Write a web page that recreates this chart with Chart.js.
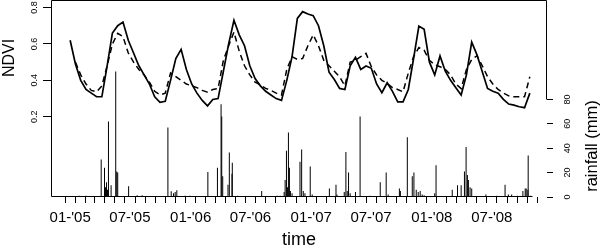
<!DOCTYPE html>
<html>
<head>
<meta charset="utf-8">
<script src="https://cdn.jsdelivr.net/npm/chart.js@4.4.1/dist/chart.umd.min.js"></script>
<style>
  html, body { margin: 0; padding: 0; background: #fff; }
  #wrap { width: 600px; height: 249px; }
</style>
</head>
<body>
<div id="wrap"><canvas id="ndviChart" width="600" height="249"></canvas></div>
<script>
// NDVI, 16-day composites from 01-01-2005 (x = days since 01-01-2005)
const ndviStepDays = 16;

const ndviSolid = [
  0.62, 0.49, 0.40, 0.35, 0.33, 0.31, 0.31, 0.48, 0.66, 0.70,
  0.72, 0.62, 0.55, 0.48, 0.43, 0.38, 0.31, 0.28, 0.285, 0.40,
  0.52, 0.57, 0.46, 0.38, 0.33, 0.29, 0.26, 0.295, 0.30, 0.45,
  0.60, 0.73, 0.65, 0.59, 0.48, 0.41, 0.37, 0.34, 0.32, 0.30,
  0.29, 0.40, 0.53, 0.74, 0.777, 0.764, 0.755, 0.70, 0.59, 0.445,
  0.405, 0.356, 0.35, 0.48, 0.526, 0.46, 0.479, 0.466, 0.38, 0.332,
  0.387, 0.34, 0.282, 0.282, 0.35, 0.52, 0.698, 0.68, 0.50, 0.43,
  0.534, 0.45, 0.40, 0.36, 0.32, 0.43, 0.61, 0.54, 0.447, 0.356,
  0.34, 0.33, 0.296, 0.27, 0.264, 0.255, 0.25, 0.33
];

const ndviDashed = [
  null, 0.50, 0.43, 0.38, 0.345, 0.337, 0.37, 0.48, 0.60, 0.658,
  0.64, 0.55, 0.50, 0.46, 0.43, 0.39, 0.34, 0.32, 0.33, 0.44,
  0.42, 0.40, 0.38, 0.37, 0.36, 0.345, 0.335, 0.35, 0.355, 0.51,
  0.59, 0.665, 0.56, 0.48, 0.43, 0.39, 0.375, 0.356, 0.345, 0.33,
  0.32, 0.46, 0.53, 0.515, 0.52, 0.59, 0.65, 0.59, 0.51, 0.48,
  0.45, 0.42, 0.37, 0.50, 0.51, 0.53, 0.548, 0.475, 0.43, 0.40,
  0.383, 0.36, 0.35, 0.337, 0.44, 0.53, 0.58, 0.565, 0.51, 0.485,
  0.475, 0.46, 0.43, 0.38, 0.355, 0.46, 0.515, 0.535, 0.48, 0.42,
  0.38, 0.35, 0.33, 0.315, 0.31, 0.31, 0.31, 0.42
];

// daily rainfall, rainy days only (day = days since 01-01-2005)
const rainDays = [
  27, 48, 94, 104, 107, 110, 113, 116, 124, 138,
  141, 144, 177, 203, 218, 296, 306, 313, 318, 323,
  348, 363, 417, 446, 457, 459, 462, 478, 482, 490,
  491, 507, 580, 627, 636, 648, 651, 655, 658, 661,
  664, 667, 672, 696, 701, 706, 711, 727, 733, 785,
  805, 808, 830, 835, 839, 843, 848, 864, 878, 908,
  939, 957, 963, 997, 1000, 1021, 1036, 1041, 1048, 1054,
  1060, 1066, 1072, 1104, 1108, 1157, 1173, 1184, 1194, 1199,
  1203, 1206, 1211, 1216, 1259, 1292, 1317, 1327, 1337, 1354,
  1371, 1378, 1381, 1386, 1387, 1393
];
const rainMm = [
  1, 1, 30.7, 24, 8, 12, 6, 62, 9.6, 103,
  21, 20, 8.8, 1.5, 1.5, 57, 4.7, 3, 4, 5.5,
  1, 1, 20.6, 24, 76, 66, 17, 10, 36.5, 19,
  28, 1, 5, 1, 1, 4, 14, 38, 8, 53,
  24, 5, 3, 29, 39, 5, 3, 25, 2, 7,
  10, 2, 4, 37, 5, 20, 3, 4, 66, 1,
  12, 20, 2, 7, 5, 49, 17, 20, 6, 4,
  5, 2, 1.5, 3, 26, 6, 9.6, 9.6, 21, 41,
  18, 14, 8, 7, 2, 1, 10, 2, 2, 1,
  5, 7, 7, 6, 34, 1
];

const ndviTicks = [0.2, 0.4, 0.6, 0.8];
const rainTicks = [0, 20, 40, 60, 80];
const xTickMonths = 47;               // monthly ticks Jan 2005 .. Nov 2008
const xLabelMonths = [0, 6, 12, 18, 24, 30, 36, 42];
const xTickLabels = ["01-'05", "07-'05", "01-'06", "07-'06", "01-'07", "07-'07", "01-'08", "07-'08"];

const FONT = "'Liberation Sans', Arial, sans-serif";
const DAY0 = Date.UTC(2005, 0, 1);

const monthDays = [];
for (let m = 0; m < xTickMonths; m++) {
  monthDays.push((Date.UTC(2005, m, 1) - DAY0) / 86400000);
}

function xLabel(value) {
  const m = monthDays.indexOf(value);
  const k = xLabelMonths.indexOf(m);
  return k >= 0 ? xTickLabels[k] : "";
}

const solidData = ndviSolid.map((v, i) => ({ x: i * ndviStepDays, y: v }));
const dashedData = ndviDashed.map((v, i) => ({ x: i * ndviStepDays, y: v }));
const rainData = rainDays.map((d, i) => ({ x: d, y: rainMm[i] }));

// box + axis titles, drawn the way the R figure has them
const framePlugin = {
  id: "frame",
  afterDraw(chart) {
    const { ctx, chartArea: a, scales } = chart;
    const yTop = Math.round(a.top) + 0.5;
    const yBot = Math.round(a.bottom) - 0.5;
    const xL = Math.round(a.left) + 0.5;
    const xR = Math.round(a.right) - 0.5;

    ctx.save();
    ctx.strokeStyle = "#000";
    ctx.lineWidth = 1;
    ctx.beginPath();
    ctx.moveTo(xL, yBot);
    ctx.lineTo(xL, yTop);
    ctx.lineTo(xR, yTop);
    ctx.lineTo(xR, scales.y2.getPixelForValue(80));
    ctx.moveTo(xL, yBot);
    ctx.lineTo(scales.x.getPixelForValue(monthDays[monthDays.length - 1]), yBot);
    ctx.stroke();

    ctx.fillStyle = "#000";
    ctx.textAlign = "center";
    ctx.textBaseline = "middle";

    ctx.font = "16px " + FONT;
    ctx.translate(10, 58);
    ctx.rotate(-Math.PI / 2);
    ctx.fillText("NDVI", 0, 0);
    ctx.setTransform(1, 0, 0, 1, 0, 0);

    ctx.font = "16.5px " + FONT;
    ctx.translate(592, 146);
    ctx.rotate(-Math.PI / 2);
    ctx.fillText("rainfall (mm)", 0, 0);
    ctx.restore();
  }
};

const ctx = document.getElementById("ndviChart").getContext("2d");

new Chart(ctx, {
  type: "bar",
  data: {
    datasets: [
      {
        type: "line",
        data: solidData,
        yAxisID: "y",
        borderColor: "#000",
        borderWidth: 1.7,
        pointRadius: 0,
        tension: 0,
        order: 1
      },
      {
        type: "line",
        data: dashedData,
        yAxisID: "y",
        borderColor: "#000",
        borderWidth: 1.5,
        borderDash: [6, 4],
        pointRadius: 0,
        tension: 0,
        order: 2
      },
      {
        type: "bar",
        data: rainData,
        yAxisID: "y2",
        backgroundColor: "#000",
        barThickness: 1,
        inflateAmount: 0,
        order: 3
      }
    ]
  },
  options: {
    responsive: false,
    animation: false,
    layout: { padding: 0 },
    plugins: {
      legend: { display: false },
      tooltip: { enabled: false }
    },
    scales: {
      x: {
        type: "linear",
        min: -58,
        max: 1444,
        offset: false,
        afterBuildTicks: s => { s.ticks = monthDays.map(d => ({ value: d })); },
        afterFit: s => { s.height = 52; s.paddingLeft = 0; s.paddingRight = 0; },
        grid: { drawOnChartArea: false, tickLength: 6, color: "#000" },
        border: { display: false },
        ticks: {
          autoSkip: false,
          minRotation: 0,
          maxRotation: 0,
          padding: 6,
          color: "#000",
          font: { family: FONT, size: 15 },
          callback: value => xLabel(value)
        },
        title: {
          display: true,
          text: "time",
          color: "#000",
          font: { family: FONT, size: 18 },
          padding: { top: 0, bottom: -2 }
        }
      },
      y: {
        position: "left",
        min: -0.24,
        max: 0.841,
        afterBuildTicks: s => { s.ticks = ndviTicks.map(v => ({ value: v })); },
        afterFit: s => { s.width = 51; s.paddingTop = 0; s.paddingBottom = 0; },
        grid: { drawOnChartArea: false, tickLength: 8, color: "#000" },
        border: { display: false },
        ticks: {
          minRotation: 90,
          maxRotation: 90,
          crossAlign: "center",
          padding: 2,
          color: "#000",
          font: { family: FONT, size: 9 },
          callback: v => v.toFixed(1)
        }
      },
      y2: {
        position: "right",
        min: 0,
        max: 161.6,
        afterBuildTicks: s => { s.ticks = rainTicks.map(v => ({ value: v })); },
        afterFit: s => { s.width = 53; s.paddingTop = 0; s.paddingBottom = 0; },
        grid: { drawOnChartArea: false, tickLength: 6, color: "#000" },
        border: { display: false },
        ticks: {
          minRotation: 90,
          maxRotation: 90,
          crossAlign: "center",
          padding: 10,
          color: "#000",
          font: { family: FONT, size: 9 },
          callback: v => String(v)
        }
      }
    }
  },
  plugins: [framePlugin]
});
</script>
</body>
</html>
